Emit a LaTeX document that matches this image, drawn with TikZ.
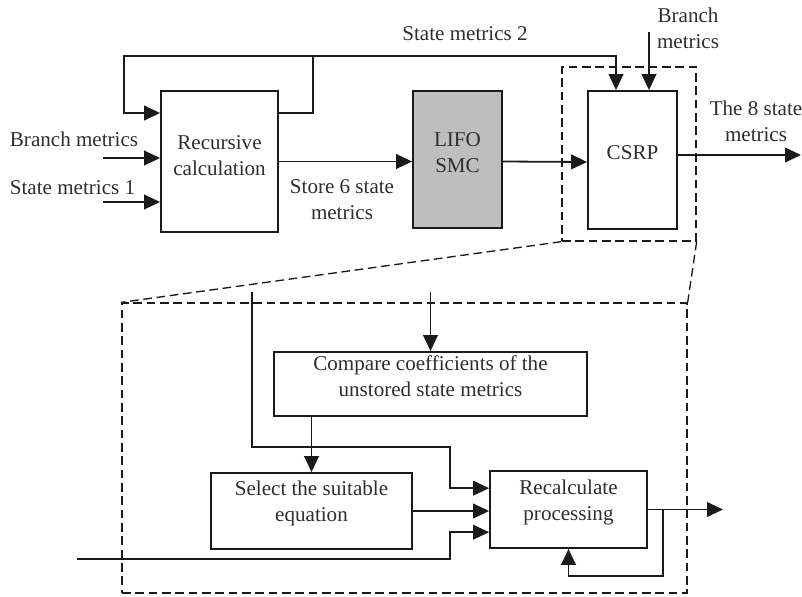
\documentclass[tikz,border=0pt]{standalone}
\usepackage{fontspec}
\setmainfont{Liberation Serif}
\usetikzlibrary{arrows.meta,fit}
\definecolor{linec}{HTML}{1A1A1A}
\definecolor{txt}{HTML}{2E2E2E}
\definecolor{fillg}{HTML}{BEBEBE}
\begin{document}
\begin{tikzpicture}[x=0.75pt,y=-0.75pt,
  font=\fontsize{15.8}{19.5}\selectfont,
  line/.style={draw=linec, line width=1.35pt},
  arr/.style={line, -{Triangle[length=12pt,width=11pt]}},
  box/.style={draw=linec, line width=1.35pt, inner sep=0pt, align=center, text=txt},
  frame/.style={draw=linec, line width=1pt, dash pattern=on 6.5pt off 3.5pt},
  lbl/.style={text=txt, align=center, inner sep=0pt}]
\useasboundingbox (0,0) rectangle (802,596);

% upper chain
\node[box, fit={(161,91)(278,232)}] (rc) {};
\node[lbl] (rct) at (219.5,155.5) {Recursive\\calculation};
\node[box, fill=fillg, fit={(413,91)(502,228)}] (lf) {LIFO\\SMC};
\node[box, fit={(588,91)(677,229)}] (cs) {CSRP};
\node[frame, inner sep=0pt, fit={(562,67)(696,241)}] (cf) {};

% detail of CSRP
\node[frame, inner sep=0pt, fit={(122,303)(687,593)}] (bf) {};
\node[box, fit={(274,352)(587,416)}] (cp) {Compare coefficients of the\\unstored state metrics};
\node[box, fit={(211,473)(412,549)}] (se) {Select the suitable\\equation};
\node[box, fit={(490,471)(647,548)}] (rp) {Recalculate\\processing};

% labels
\node[lbl] (lbm) at (74,139) {Branch metrics};
\node[lbl] (lsm1) at (72.5,188) {State metrics 1};
\node[lbl] (lsm2) at (465,34) {State metrics 2};
\node[lbl] (lbm2) at (688,28) {Branch\\metrics};
\node[lbl] (lst) at (342,200) {Store 6 state\\metrics};
\node[lbl] (l8) at (756,121) {The 8 state\\metrics};

% free ends
\coordinate (bmin) at (103,158);
\coordinate (sm1in) at (103,202);
\coordinate (fby) at (0,113);
\coordinate (lt) at (124,56);
\coordinate (rt) at (313,56);
\coordinate (sm2) at (616,56);
\coordinate (bmt) at (649,32);
\coordinate (o1) at (801,0);
\coordinate (cso) at ([yshift=3.75pt]cs.east);
\coordinate (c1) at (252,292);
\coordinate (c2) at (430,292);
\coordinate (c3) at (77,559);
\coordinate (o2) at (723,0);

% upper connectors
\draw[arr] (bmin) -- (rc.west |- bmin);
\draw[arr] (sm1in) -- (rc.west |- sm1in);
\draw[arr] (rc.east |- fby) -| (rt) -| (lt |- fby) -- (rc.west |- fby);
\draw[arr] (rt) -- (sm2) -- (sm2 |- cs.north);
\draw[arr] (bmt) -- (bmt |- cs.north);
\draw[arr] (rc.east) -- (lf.west |- rc.east);
\draw[arr] ([yshift=-1.5pt]lf.east) -- ([yshift=-1.5pt]cs.west);
\draw[arr] (cso) -- (o1 |- cso);

% zoom lines
\draw[frame] (cf.south west) -- (bf.north west);
\draw[frame] (cf.south east) -- (bf.north east);

% inner connectors
\draw[arr] (cp.north |- c2) -- (cp.north);
\draw[arr] (se.north |- cp.south) -- (se.north);
\draw[arr] (c1) |- (450,447) |- ([yshift=16pt]rp.west);
\draw[arr] (se.east) -- (se.east -| rp.west);
\draw[arr] (c3) -- (450,559) |- ([yshift=-17pt]rp.west);
\draw[arr] (rp.east) -- (rp.east -| o2);
\draw[arr] ([xshift=11.25pt]rp.east) |- ([yshift=-20.25pt]rp.south) -- (rp.south);
\end{tikzpicture}
\end{document}
